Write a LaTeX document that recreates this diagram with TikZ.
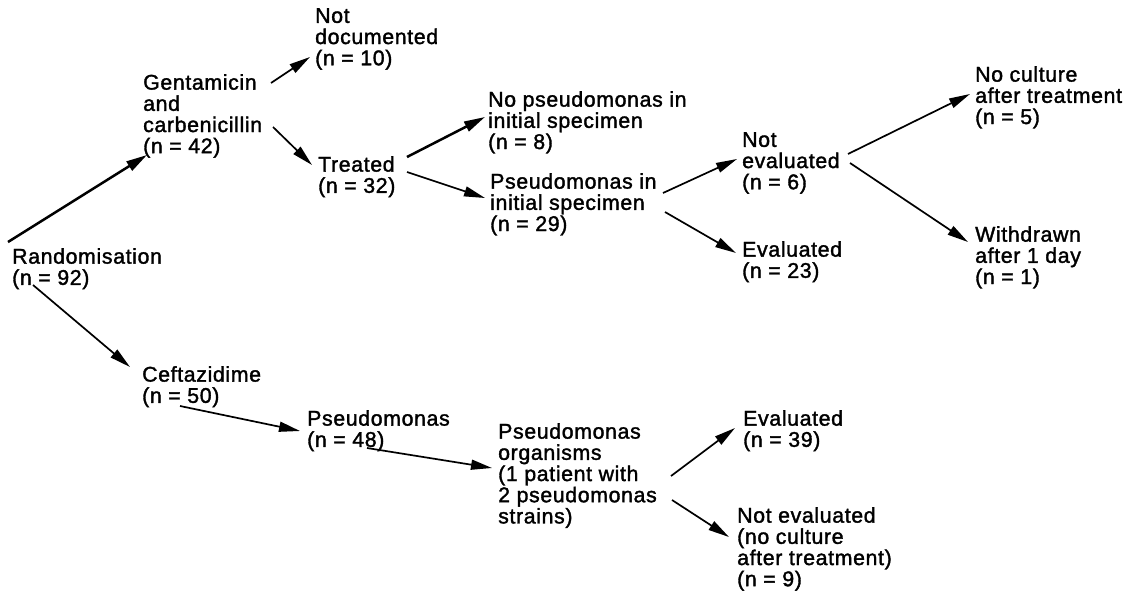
\documentclass[tikz,border=0pt]{standalone}
\usepackage{fontspec}
\setmainfont{Liberation Sans}[LetterSpace=3,FakeBold=1.6]
\usetikzlibrary{arrows.meta}
\begin{document}
\begin{tikzpicture}[x=1pt,y=-1pt,
  lbl/.style={anchor=north west,inner sep=0pt,align=left,font=\fontsize{21.3}{21.2}\selectfont},
  arr/.style={line width=1.7pt,-{Triangle[length=21pt,width=10pt]}},
  thickarr/.style={line width=2.5pt,-{Triangle[length=21pt,width=10.5pt]}}]
\useasboundingbox (0,0) rectangle (1138,591);
\node[lbl] (rand) at (12,248) {Randomisation\\(n = 92)};
\node[lbl] (gent) at (143,74) {Gentamicin\\and\\carbenicillin\\(n = 42)};
\node[lbl] (notdoc) at (315,8) {Not\\documented\\(n = 10)};
\node[lbl] (treat) at (318,156) {Treated\\(n = 32)};
\node[lbl] (nopseu) at (488,91) {No pseudomonas in\\initial specimen\\(n = 8)};
\node[lbl] (pseuin) at (490,173) {Pseudomonas in\\initial specimen\\(n = 29)};
\node[lbl] (noteval1) at (742,132) {Not\\evaluated\\(n = 6)};
\node[lbl] (eval1) at (742,241) {Evaluated\\(n = 23)};
\node[lbl] (nocult) at (975,66) {No culture\\after treatment\\(n = 5)};
\node[lbl] (withdr) at (975,226) {Withdrawn\\after 1 day\\(n = 1)};
\node[lbl] (ceft) at (142,366) {Ceftazidime\\(n = 50)};
\node[lbl] (pseu48) at (307,410) {Pseudomonas\\(n = 48)};
\node[lbl] (org) at (498,423) {Pseudomonas\\organisms\\(1 patient with\\2 pseudomonas\\strains)};
\node[lbl] (eval2) at (743,410) {Evaluated\\(n = 39)};
\node[lbl] (noteval2) at (737,507) {Not evaluated\\(no culture\\after treatment)\\(n = 9)};

\draw[thickarr] ([shift={(-4,-6)}]rand.north west) -- ([shift={(4,81)}]gent.north west);
\draw[arr] ([shift={(128,9)}]gent.north west) -- ([shift={(-5,49)}]notdoc.north west);
\draw[arr] ([shift={(130,53)}]gent.north west) -- ([shift={(-6,9)}]treat.north west);
\draw[arr] ([shift={(21,37)}]rand.north west) -- ([shift={(-12,1)}]ceft.north west);
\draw[thickarr] ([shift={(89,1)}]treat.north west) -- ([shift={(-3,26)}]nopseu.north west);
\draw[arr] ([shift={(89,16)}]treat.north west) -- ([shift={(-5,25)}]pseuin.north west);
\draw[arr] ([shift={(173,20)}]pseuin.north west) -- ([shift={(-5,27)}]noteval1.north west);
\draw[arr] ([shift={(175,39)}]pseuin.north west) -- ([shift={(-6,12)}]eval1.north west);
\draw[arr] ([shift={(106,22)}]noteval1.north west) -- ([shift={(-5,28)}]nocult.north west);
\draw[arr] ([shift={(108,31)}]noteval1.north west) -- ([shift={(-7,16)}]withdr.north west);
\draw[arr] ([shift={(38,40)}]ceft.north west) -- ([shift={(-7,21)}]pseu48.north west);
\draw[arr] ([shift={(60,38)}]pseu48.north west) -- ([shift={(-6,45)}]org.north west);
\draw[arr] ([shift={(173,53)}]org.north west) -- ([shift={(-8,18)}]eval2.north west);
\draw[arr] ([shift={(174,77)}]org.north west) -- ([shift={(-8,30)}]noteval2.north west);
\end{tikzpicture}
\end{document}
